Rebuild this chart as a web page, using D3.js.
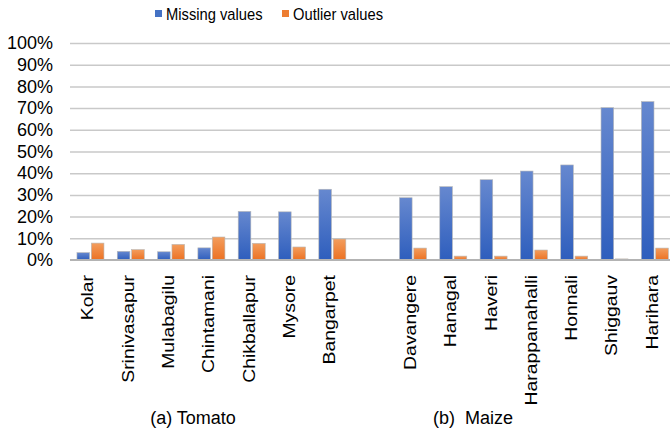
<!DOCTYPE html>
<html>
<head>
<meta charset="utf-8">
<script src="https://cdn.jsdelivr.net/npm/d3@7"></script>
<style>
  body { margin: 0; background: #fff; }
  svg text { font-family: "Liberation Sans", Arial, sans-serif; fill: #000; }
</style>
</head>
<body>
<svg id="chart"></svg>
<script>
const width = 670;
const height = 434;

// data
const tomatoCities = ["Kolar", "Srinivasapur", "Mulabagilu", "Chintamani", "Chikballapur", "Mysore", "Bangarpet"];
const tomatoMissing = [3.4, 4.0, 3.8, 5.6, 22.4, 22.2, 32.6];
const tomatoOutlier = [7.8, 4.8, 7.2, 10.6, 7.7, 6.0, 9.7];

const maizeCities = ["Davangere", "Hanagal", "Haveri", "Harappanahalli", "Honnali", "Shiggauv", "Harihara"];
const maizeMissing = [28.7, 33.8, 37.0, 41.0, 43.8, 70.2, 73.0];
const maizeOutlier = [5.5, 1.8, 1.8, 4.6, 1.8, 0.5, 5.5];

const seriesNames = ["Missing values", "Outlier values"];
const yTicks = [0, 10, 20, 30, 40, 50, 60, 70, 80, 90, 100];
const groupLabels = ["(a) Tomato", "(b)  Maize"];

const spacer = "__gap__";
const categories = [...tomatoCities, spacer, ...maizeCities];
const rows = [
  ...tomatoCities.map((c, i) => ({ city: c, values: [tomatoMissing[i], tomatoOutlier[i]] })),
  ...maizeCities.map((c, i) => ({ city: c, values: [maizeMissing[i], maizeOutlier[i]] }))
];

const svg = d3.select("#chart").attr("width", width).attr("height", height);

// gradients for bars
const defs = svg.append("defs");
const grads = [["gBlue", "#6688cf", "#2e5ebd"], ["gOrange", "#f39d5d", "#ec7122"]];
grads.forEach(([id, top, bottom]) => {
  const g = defs.append("linearGradient").attr("id", id)
    .attr("x1", 0).attr("y1", 0).attr("x2", 0).attr("y2", 1);
  g.append("stop").attr("offset", "0%").attr("stop-color", top);
  g.append("stop").attr("offset", "100%").attr("stop-color", bottom);
});
const fills = ["url(#gBlue)", "url(#gOrange)"];
const legendColors = ["#4472c4", "#ed7d31"];

const x = d3.scaleBand()
  .domain(categories)
  .range([70.3, 675])
  .paddingInner(0.33)
  .paddingOuter(0.165);

const xSub = d3.scaleBand()
  .domain(d3.range(seriesNames.length))
  .range([0, x.bandwidth()])
  .paddingInner(0.12);

const y = d3.scaleLinear().domain([0, 100]).range([260, 43]);

// grid lines
svg.append("g")
  .attr("class", "grid")
  .attr("transform", "translate(70,0)")
  .call(d3.axisLeft(y).tickValues(yTicks.slice(1)).tickSize(-600).tickFormat(""))
  .call(g => g.select(".domain").remove())
  .call(g => g.selectAll(".tick line").attr("stroke", "#c9c9c9").attr("stroke-width", 1.5));

// y tick labels
svg.append("g")
  .attr("transform", "translate(53,0)")
  .call(d3.axisLeft(y).tickValues(yTicks).tickSize(0).tickPadding(0).tickFormat(d => d + "%"))
  .call(g => g.select(".domain").remove())
  .call(g => g.selectAll("text").attr("font-size", 18).attr("font-family", "Liberation Sans, Arial, sans-serif"));

// bars
const groups = svg.append("g").selectAll("g")
  .data(rows)
  .join("g")
  .attr("transform", d => `translate(${x(d.city)},0)`);

groups.selectAll("rect")
  .data(d => d.values)
  .join("rect")
  .attr("x", (d, i) => xSub(i))
  .attr("width", xSub.bandwidth())
  .attr("y", d => y(d))
  .attr("height", d => y(0) - y(d))
  .attr("fill", (d, i) => fills[i])
  .attr("stroke", "#b8b8b8")
  .attr("stroke-width", 0.6);

// baseline
svg.append("line")
  .attr("x1", 70).attr("x2", 670)
  .attr("y1", y(0)).attr("y2", y(0))
  .attr("stroke", "#b3b3b3")
  .attr("stroke-width", 2);

// category labels (long along the text, a little thin across it)
svg.append("g").selectAll("text")
  .data(categories.filter(c => c !== spacer))
  .join("text")
  .attr("transform", d => `translate(${x(d) + x.bandwidth() / 2 - 3},275) rotate(-90) scale(1,0.85)`)
  .attr("text-anchor", "end")
  .attr("dy", "0.36em")
  .attr("font-size", 19.4)
  .text(d => d);

// group labels
svg.append("g").selectAll("text")
  .data(groupLabels)
  .join("text")
  .attr("x", (d, i) => [193, 473][i])
  .attr("y", 424)
  .attr("text-anchor", "middle")
  .attr("font-size", 18)
  .style("white-space", "pre")
  .text(d => d);

// legend
const legend = svg.append("g").selectAll("g")
  .data(seriesNames)
  .join("g")
  .attr("transform", (d, i) => `translate(${[155, 282][i]},0)`);

legend.append("rect")
  .attr("x", 0).attr("y", 10)
  .attr("width", 7).attr("height", 7)
  .attr("fill", (d, i) => legendColors[i]);

legend.append("text")
  .attr("transform", "translate(11,20) scale(0.91,1)")
  .attr("font-size", 16.2)
  .text(d => d);
</script>
</body>
</html>
